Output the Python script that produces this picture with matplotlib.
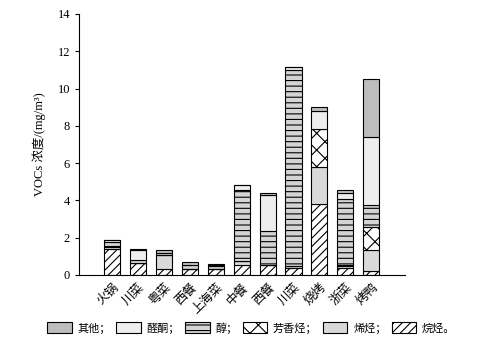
import matplotlib
matplotlib.use("Agg")
import matplotlib.pyplot as plt
import numpy as np

plt.rcParams['font.family'] = ['Liberation Serif', 'Noto Sans CJK SC']
plt.rcParams['hatch.linewidth'] = 0.8

categories = ['火锅', '川菜', '粤菜', '西餐', '上海菜', '中餐', '西餐', '川菜', '烧烤', '浙菜', '烤鸭']
alkane   = [1.40, 0.63, 0.34, 0.30, 0.30, 0.55, 0.55, 0.37, 3.79, 0.37, 0.23]
olefin   = [0.10, 0.00, 0.75, 0.00, 0.00, 0.20, 0.00, 0.10, 2.02, 0.10, 1.11]
aromatic = [0.05, 0.00, 0.00, 0.00, 0.00, 0.00, 0.00, 0.00, 2.02, 0.05, 1.26]
alcohol  = [0.20, 0.17, 0.11, 0.25, 0.20, 3.80, 1.81, 10.53, 0.00, 3.54, 1.15]
aldehyde = [0.10, 0.55, 0.00, 0.00, 0.05, 0.29, 1.94, 0.17, 0.97, 0.32, 3.67]
other    = [0.05, 0.06, 0.14, 0.13, 0.04, 0.00, 0.08, 0.00, 0.23, 0.18, 3.09]

series = [
    ('烷烃。', alkane, 'white', '////'),
    ('烯烃；', olefin, '#d9d9d9', None),
    ('芳香烃；', aromatic, 'white', 'xx'),
    ('醇；', alcohol, '#d4d4d4', '---'),
    ('醛酮；', aldehyde, '#eeeeee', None),
    ('其他；', other, '#bdbdbd', None),
]

fig = plt.figure(figsize=(4.88, 3.57), dpi=100)
ax = fig.add_axes([0.162, 0.2297, 0.668, 0.7313])
x = np.arange(len(categories))
bottom = np.zeros(len(categories))
handles = {}
for name, vals, fc, hatch in series:
    v = np.array(vals)
    b = ax.bar(x, v, bottom=bottom, width=0.62, facecolor=fc, edgecolor='black',
               linewidth=0.8, hatch=hatch, label=name)
    handles[name] = b
    bottom += v

ax.set_xlim(-1.27, 11.3)
ax.set_ylim(0, 14)
ax.set_yticks(np.arange(0, 15, 2))
ax.set_xticks(x)
ax.set_xticklabels(categories, rotation=45, ha='right', rotation_mode='anchor',
                   fontsize=9, family=['Noto Sans CJK SC'])
ax.tick_params(axis='x', length=0, pad=4)
ax.tick_params(axis='y', labelsize=9, length=3, direction='out')
ax.spines['top'].set_visible(False)
ax.spines['right'].set_visible(False)
ax.set_ylabel('VOCs 浓度/(mg/m³)', fontsize=9, labelpad=8)

order = ['其他；', '醛酮；', '醇；', '芳香烃；', '烯烃；', '烷烃。']
leg = fig.legend([handles[k] for k in order], order, loc='center', ncol=6,
                 bbox_to_anchor=(0.515, 0.082), frameon=False,
                 prop={'family': ['Noto Sans CJK SC'], 'size': 8},
                 handlelength=2.2, handleheight=1.1, columnspacing=0.5, handletextpad=0.5)
fig.savefig('out.png', dpi=100)
